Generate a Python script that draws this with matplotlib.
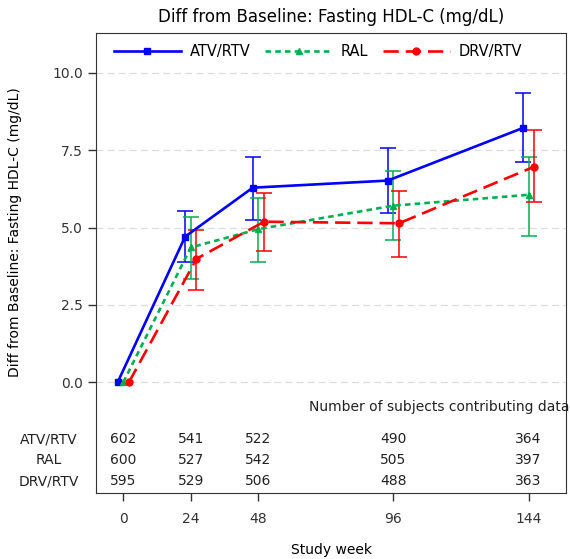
import matplotlib
matplotlib.use("Agg")
import matplotlib.pyplot as plt

plt.rcParams['font.family'] = ['DejaVu Sans']
plt.rcParams['lines.scale_dashes'] = False

weeks = [0, 24, 48, 96, 144]
groups = ["ATV/RTV", "RAL", "DRV/RTV"]

atv_mean = [0.0, 4.71, 6.29, 6.52, 8.22]
atv_lo = [0.0, 3.89, 5.24, 5.48, 7.13]
atv_hi = [0.0, 5.54, 7.27, 7.56, 9.35]

ral_mean = [0.0, 4.36, 4.95, 5.71, 6.06]
ral_lo = [0.0, 3.35, 3.89, 4.60, 4.74]
ral_hi = [0.0, 5.33, 5.97, 6.82, 7.27]

drv_mean = [0.0, 3.99, 5.19, 5.14, 6.97]
drv_lo = [0.0, 2.99, 4.23, 4.04, 5.83]
drv_hi = [0.0, 4.92, 6.13, 6.17, 8.15]

n_atv = [602, 541, 522, 490, 364]
n_ral = [600, 527, 542, 505, 397]
n_drv = [595, 529, 506, 488, 363]

fig = plt.figure(figsize=(5.7, 5.59), dpi=100)
ax = fig.add_axes([0.1684, 0.118, 0.825, 0.8235])

series = [
    (atv_mean, atv_lo, atv_hi, -2, "#0000FF", "s", None),
    (ral_mean, ral_lo, ral_hi, 0, "#00B050", "^", (0, (4, 3))),
    (drv_mean, drv_lo, drv_hi, 2, "#FF0000", "o", (0, (11, 5))),
]

for (m, lo, hi, off, col, mk, dash), name in zip(series, groups):
    xs = [w + off for w in weeks]
    # no error bar at baseline
    idx = [i for i in range(len(weeks)) if hi[i] > lo[i]]
    ex = [xs[i] for i in idx]
    ey = [m[i] for i in idx]
    yerr = [[m[i] - lo[i] for i in idx], [hi[i] - m[i] for i in idx]]
    ax.errorbar(ex, ey, yerr=yerr, fmt='none', ecolor=col, elinewidth=1.1,
                capsize=5.5, capthick=1.1, zorder=2)
    ln, = ax.plot(xs, m, color=col, marker=mk, markersize=5, lw=1.9,
                  label=name, zorder=3)
    if dash is not None:
        ln.set_linestyle(dash)

ax.set_xlim(-9.7, 157.4)
ax.set_ylim(-3.58, 11.3)
ax.set_xticks(weeks)
ax.set_xticklabels([str(w) for w in weeks], fontsize=10)
ax.set_yticks([0, 2.5, 5, 7.5, 10])
ax.set_yticklabels(["0.0", "2.5", "5.0", "7.5", "10.0"], fontsize=10)
ax.tick_params(axis='both', direction='out', length=6, width=1, colors='#333333')
ax.tick_params(axis='x', pad=8)
ax.yaxis.grid(True, linestyle=(0, (5, 3)), color='#DDDDDD', lw=0.9)
ax.set_axisbelow(True)
for s in ax.spines.values():
    s.set_color('#333333')

ax.set_title("Diff from Baseline: Fasting HDL-C (mg/dL)", fontsize=12, pad=8)
ax.set_xlabel("Study week", fontsize=10, labelpad=12)
ax.set_ylabel("Diff from Baseline: Fasting HDL-C (mg/dL)", fontsize=10)
ax.yaxis.set_label_coords(-0.157, 0.567)

leg = ax.legend(loc='center left', bbox_to_anchor=(0.01, 0.96), ncol=3,
                frameon=False, handlelength=4.6, fontsize=10.5,
                columnspacing=1.0, handletextpad=0.6)

# subject counts table
tr = ax.get_xaxis_transform()
ax.text(1.006, 0.187, "Number of subjects contributing data", transform=ax.transAxes,
        fontsize=10, ha='right', va='center', color='#222222')
rows_y = [0.1167, 0.0717, 0.026]
for name, counts, yy in zip(groups, [n_atv, n_ral, n_drv], rows_y):
    ax.text(-0.1, yy, name, transform=ax.transAxes, fontsize=10,
            ha='center', va='center', color='#222222')
    for w, c in zip(weeks, counts):
        ax.text(w, yy, str(c), transform=tr, fontsize=10, ha='center',
                va='center', color='#222222')

fig.savefig("out.png", dpi=100)
